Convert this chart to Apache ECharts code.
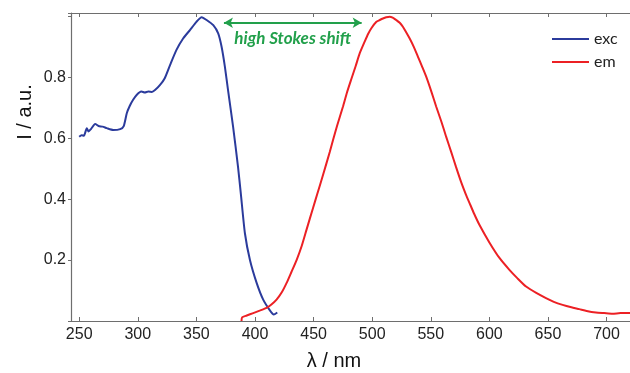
<!DOCTYPE html>
<html>
<head>
<meta charset="utf-8">
<script src="https://cdn.jsdelivr.net/npm/echarts@6/dist/echarts.min.js"></script>
<style>
html,body{margin:0;padding:0;background:#fff;}
#c{width:630px;height:373px;}
</style>
</head>
<body>
<div id="c"></div>
<script>
// Excitation spectrum (wavelength nm, intensity a.u.)
const excWl = [250, 252, 254, 256.5, 258, 260, 263.6, 266.5, 270, 273.5, 279, 285, 288, 290.6, 293, 296, 299, 303, 306, 309, 312, 314.7, 319, 323, 327.5, 333, 338.8, 344.5, 350, 354.5, 358.7, 364.4, 368.6, 371.5, 374.3, 377, 381.3, 385.5, 388, 391.4, 395.7, 401.4, 407, 412.7, 416, 419];
const excI  = [0.605, 0.61, 0.608, 0.633, 0.622, 0.63, 0.647, 0.64, 0.638, 0.633, 0.627, 0.63, 0.64, 0.682, 0.705, 0.726, 0.742, 0.753, 0.75, 0.753, 0.752, 0.758, 0.775, 0.797, 0.84, 0.89, 0.928, 0.955, 0.982, 0.997, 0.988, 0.971, 0.944, 0.90, 0.835, 0.758, 0.638, 0.507, 0.415, 0.288, 0.2, 0.125, 0.07, 0.035, 0.021, 0.028];
// Emission spectrum
const emWl = [388.5, 389, 393, 398.5, 404, 409.9, 414, 418.4, 423, 427, 431, 435.5, 440, 444, 449.6, 453, 458.1, 463.8, 466.6, 470, 475.1, 478.5, 482.3, 486, 489.4, 493.6, 496.5, 499.3, 503.6, 506.5, 509.2, 512, 514.8, 517.5, 520.5, 523.5, 526.2, 529, 531.9, 535.5, 539, 542.5, 546.1, 550.5, 554.6, 559, 563.1, 567.4, 571.6, 576, 580, 583, 587, 591.6, 600, 608.6, 617.1, 624, 631.3, 640, 648.3, 655, 662.5, 670, 676.7, 683, 690.9, 698, 705.1, 712, 718, 721];
const emI  = [0.0, 0.012, 0.018, 0.026, 0.034, 0.043, 0.054, 0.07, 0.095, 0.125, 0.16, 0.2, 0.248, 0.30, 0.372, 0.415, 0.48, 0.555, 0.594, 0.64, 0.704, 0.75, 0.795, 0.838, 0.879, 0.917, 0.942, 0.961, 0.982, 0.988, 0.993, 0.997, 0.999, 0.996, 0.988, 0.979, 0.966, 0.948, 0.928, 0.9, 0.868, 0.836, 0.802, 0.753, 0.704, 0.655, 0.605, 0.555, 0.505, 0.455, 0.415, 0.388, 0.352, 0.315, 0.258, 0.207, 0.168, 0.14, 0.113, 0.092, 0.075, 0.063, 0.053, 0.045, 0.039, 0.033, 0.028, 0.026, 0.024, 0.026, 0.026, 0.027];
const seriesNames = ['exc', 'em'];
const xTicks = [250, 300, 350, 400, 450, 500, 550, 600, 650, 700];
const shiftFrom = 373.5, shiftTo = 491, shiftLevel = 0.979;
const shiftText = 'high Stokes shift';

const chart = echarts.init(document.getElementById('c'), null, {renderer: 'canvas'});
const axisCol = '#6e6e6e';
const font = 'Liberation Sans, Arial, sans-serif';
chart.setOption({
  animation: false,
  backgroundColor: '#fff',
  grid: {left: 71, right: 0, top: 13, bottom: 52},
  legend: {
    orient: 'vertical', left: 547, top: 26,
    icon: 'rect',
    itemWidth: 37, itemHeight: 2, itemGap: 7,
    textStyle: {fontFamily: 'Lato, Open Sans, sans-serif', fontSize: 16, lineHeight: 16, color: '#222', padding: [0,0,0,0]},
    data: seriesNames
  },
  xAxis: [{
    type: 'value', min: 243, max: 720,
    axisLine: {lineStyle: {color: axisCol, width: 1.2}},
    axisTick: {inside: true, length: 4, lineStyle: {color: axisCol}, customValues: xTicks},
    splitLine: {show: false},
    axisLabel: {fontFamily: font, fontSize: 16, color: '#222', margin: 6, customValues: xTicks}
  }, {
    type: 'value', position: 'top', min: 243, max: 720,
    axisLine: {show: true, lineStyle: {color: axisCol, width: 1.2}},
    axisTick: {inside: true, length: 4, lineStyle: {color: axisCol}, customValues: xTicks},
    axisLabel: {show: false}, splitLine: {show: false}
  }],
  yAxis: {
    type: 'value', min: 0, max: 1.011, interval: 0.2,
    axisLine: {show: true, lineStyle: {color: axisCol, width: 1.2}},
    axisTick: {show: true, length: 3, lineStyle: {color: axisCol}},
    splitLine: {show: false},
    axisLabel: {fontFamily: font, fontSize: 16, color: '#222', margin: 5,
      formatter: v => (v < 0.1 || v > 0.95) ? '' : v.toFixed(1)}
  },
  series: [{
    name: seriesNames[0], type: 'line', symbol: 'none', clip: true, smooth: 0.2,
    color: '#2b3b9c',
    lineStyle: {width: 2, color: '#2b3b9c'},
    data: excWl.map((w, i) => [w, excI[i]]),
    markLine: {
      silent: true, symbol: ['arrow', 'arrow'], symbolSize: [8, 9],
      lineStyle: {color: '#22a04b', width: 2, type: 'solid'},
      label: {show: true, position: 'insideMiddleBottom', distance: 7, formatter: shiftText,
        color: '#22a04b', fontFamily: 'Lato, Open Sans, sans-serif', fontWeight: 'bold', fontStyle: 'italic', fontSize: 17},
      data: [[{coord: [shiftFrom, shiftLevel]}, {coord: [shiftTo, shiftLevel]}]]
    }
  }, {
    name: seriesNames[1], type: 'line', symbol: 'none', clip: true, smooth: 0.2,
    color: '#ec2024',
    lineStyle: {width: 2, color: '#ec2024'},
    data: emWl.map((w, i) => [w, emI[i]])
  }],
  graphic: [{
    type: 'text', x: 334, y: 361,
    style: {text: 'λ / nm', fontFamily: font, fontSize: 20, fill: '#111', align: 'center', verticalAlign: 'middle'}
  }, {
    type: 'text', x: 25, y: 112, rotation: Math.PI / 2,
    style: {text: 'I / a.u.', fontFamily: font, fontSize: 20, fill: '#111', align: 'center', verticalAlign: 'middle'}
  }]
});
</script>
</body>
</html>
